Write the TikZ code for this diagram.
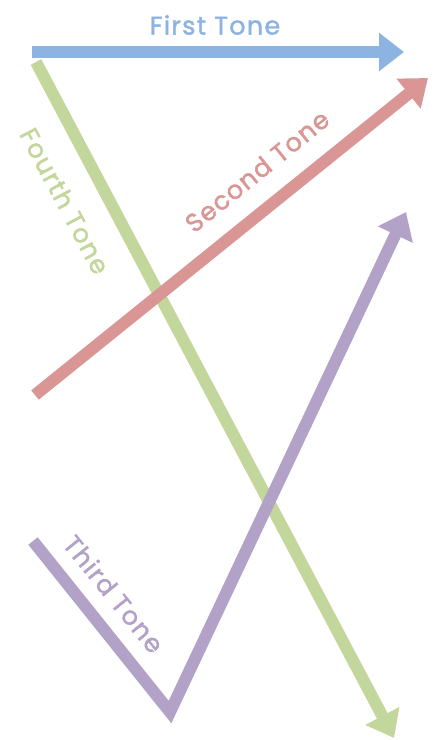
\documentclass[tikz,border=0pt]{standalone}
\usepackage{fontspec}
\setmainfont[FakeBold=1.6,LetterSpace=5]{Poppins}
\usetikzlibrary{arrows.meta}
\definecolor{toneblue}{HTML}{8DB3E2}
\definecolor{tonered}{HTML}{D99694}
\definecolor{tonegreen}{HTML}{C3D69B}
\definecolor{tonepurple}{HTML}{B3A2C7}
\tikzset{
  tone/.style={line width=12pt, -{Triangle[width=37pt,length=25pt]}},
  tonelabel/.style={font=\fontsize{25.5}{30}\selectfont, inner sep=0pt}
}
\begin{document}
\begin{tikzpicture}[x=1pt,y=-1pt]
\useasboundingbox (0,0) rectangle (435,740);
% endpoints
\coordinate (b1) at (32,52);
\coordinate (b2) at (404,52);
\coordinate (r1) at (35,395);
\coordinate (r2) at (428,78);
\coordinate (g1) at (36,62);
\coordinate (g2) at (394,738);
\coordinate (p1) at (33,541);
\coordinate (p2) at (170,712);
\coordinate (p3) at (406,212);
% lines
\draw[tone, tonegreen] (g1) -- (g2);
\draw[tone, tonered] (r1) -- (r2);
\draw[tone, tonepurple, line join=miter] (p1) -- (p2) -- (p3);
\draw[tone, toneblue] (b1) -- (b2);
% labels
\node[tonelabel, text=toneblue] (lb) at (215,25) {First Tone};
\node[tonelabel, text=tonered, rotate=39] (lr) at (257,171) {Second Tone};
\node[tonelabel, text=tonegreen, rotate=-62] (lg) at (65,201) {Fourth Tone};
\node[tonelabel, text=tonepurple, rotate=-51] (lp) at (114,594) {Third Tone};
\end{tikzpicture}
\end{document}
